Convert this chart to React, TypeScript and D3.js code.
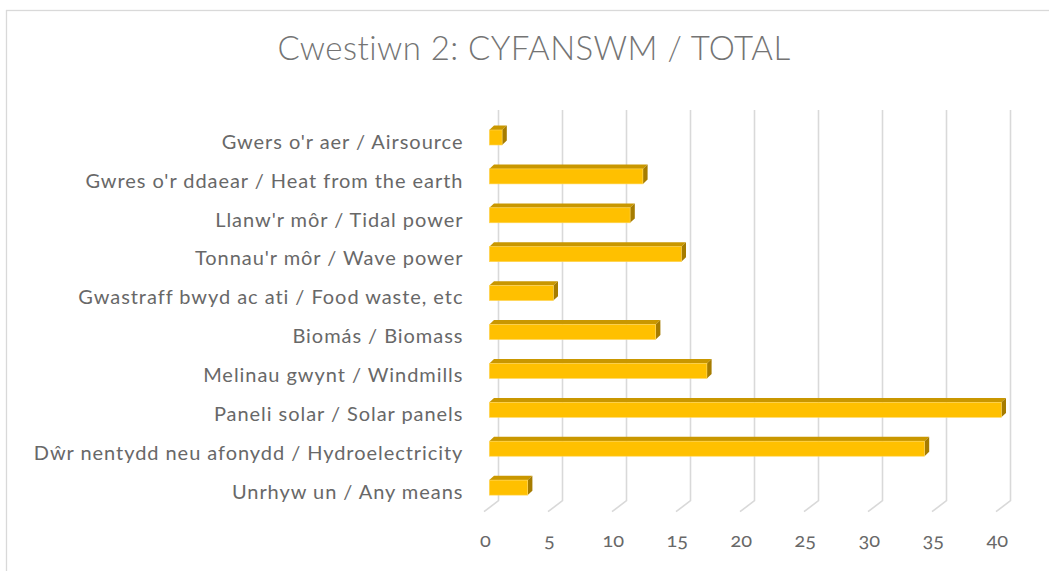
import React from "react";
import * as d3 from "d3";

const categories = [
  "Gwers o'r aer / Airsource",
  "Gwres o'r ddaear / Heat from the earth",
  "Llanw'r môr / Tidal power",
  "Tonnau'r môr / Wave power",
  "Gwastraff bwyd ac ati / Food waste, etc",
  "Biomás / Biomass",
  "Melinau gwynt / Windmills",
  "Paneli solar / Solar panels",
  "Dŵr nentydd neu afonydd / Hydroelectricity",
  "Unrhyw un / Any means",
];
const values = [1, 12, 11, 15, 5, 13, 17, 40, 34, 3];
const tickValues = [0, 5, 10, 15, 20, 25, 30, 35, 40];
const title = "Cwestiwn 2: CYFANSWM / TOTAL";

const W = 1049;
const H = 571;
const FONT = "Lato, 'Open Sans', sans-serif";

export default function App() {
  // back wall scale
  const x = d3.scaleLinear().domain([0, 40]).range([498.5, 1010.5]);
  const y = d3
    .scaleBand<string>()
    .domain(categories)
    .range([106.1, 519])
    .padding(0.614);

  const wallTop = 110;
  const floorBack = 500.7;
  const floorDx = -14.5;
  const floorDy = 11;
  const barDx = -9.2; // front face offset from wall
  const depthX = 4.7;
  const depthY = -4.4;
  const bh = y.bandwidth();

  return (
    <svg
      width={W}
      height={H}
      style={{ position: "absolute", left: 0, top: 0, background: "#fff" }}
    >
      <rect x={6.5} y={10.5} width={W + 20} height={H + 20} fill="#fff" stroke="#d9d9d9" strokeWidth={1.3} />
      <text
        x={534}
        y={59.5}
        textAnchor="middle"
        fontFamily={FONT}
        fontWeight={300}
        fontSize={33}
        letterSpacing={0.45}
        fill="#747474"
      >
        {title}
      </text>
      {/* gridlines */}
      {tickValues.map((t) => (
        <path
          key={"g" + t}
          d={`M${x(t)},${wallTop} L${x(t)},${floorBack} L${x(t) + floorDx},${floorBack + floorDy}`}
          fill="none"
          stroke="#d9d9d9"
          strokeWidth={1.6}
        />
      ))}
      {/* bars */}
      {categories.map((c, i) => {
        const yt = y(c)!;
        const x0 = x(0) + barDx;
        const x1 = x(values[i]) + barDx;
        return (
          <g key={c}>
            <polygon
              points={`${x0},${yt} ${x1},${yt} ${x1 + depthX},${yt + depthY} ${x0 + depthX},${yt + depthY}`}
              fill="#c99700"
            />
            <polygon
              points={`${x1},${yt} ${x1 + depthX},${yt + depthY} ${x1 + depthX},${yt + bh + depthY} ${x1},${yt + bh}`}
              fill="#a67c00"
            />
            <rect x={x0} y={yt} width={x1 - x0} height={bh} fill="#ffc000" stroke="#ffd65a" strokeWidth={0.6} />
          </g>
        );
      })}
      {/* category labels */}
      {categories.map((c) => (
        <text
          key={"l" + c}
          x={463.4}
          y={y(c)! + 18.8}
          textAnchor="end"
          fontFamily={FONT}
          fontSize={20}
          letterSpacing={0.95}
          fill="#686868"
        >
          {c}
        </text>
      ))}
      {/* tick labels */}
      {tickValues.map((t) => (
        <text
          key={"t" + t}
          x={x(t) + floorDx + 1.3}
          y={547.3}
          textAnchor="middle"
          fontFamily={FONT}
          fontSize={20}
          fill="#686868"
          style={{ fontVariantNumeric: "oldstyle-nums" }}
        >
          {t}
        </text>
      ))}
    </svg>
  );
}
